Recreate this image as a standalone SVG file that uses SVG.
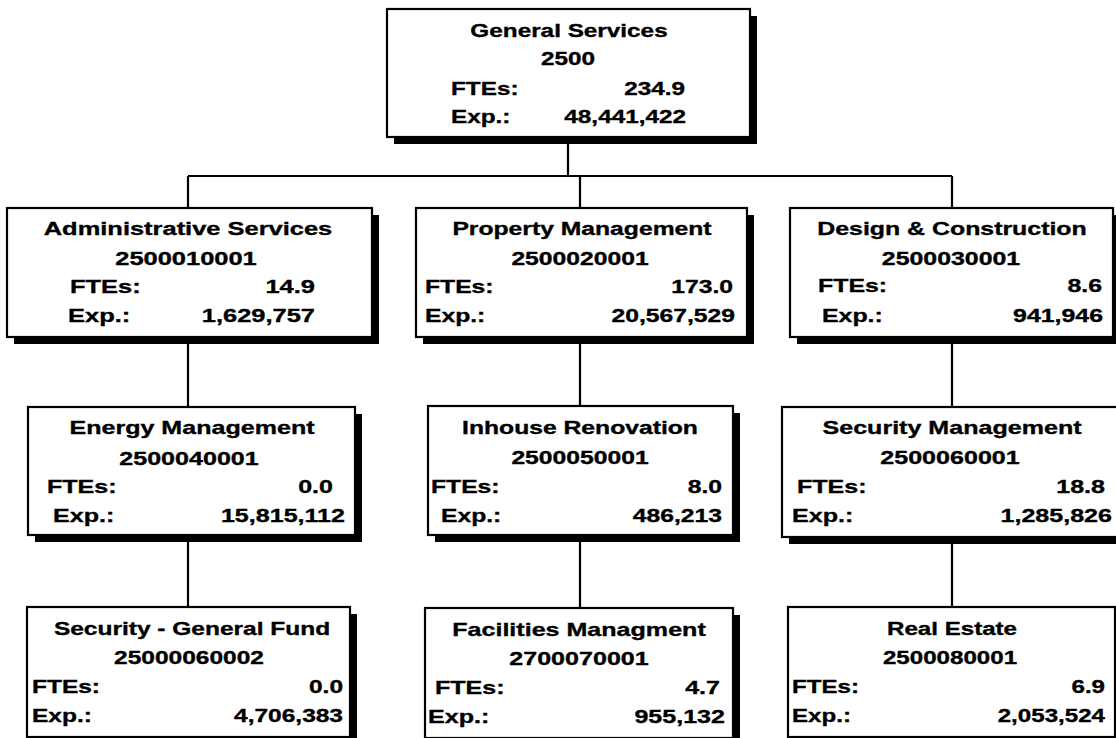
<svg xmlns="http://www.w3.org/2000/svg" width="1116" height="738" viewBox="0 0 1116 738">
<style>
.sh{fill:#000}
.bx{fill:#fff;stroke:#000;stroke-width:2.2}
.t{font-family:"Liberation Sans",Arial,sans-serif;font-weight:bold;font-size:19px;fill:#000;stroke:#000;stroke-width:0.35}
.m{text-anchor:middle}
.e{text-anchor:end}
.c{stroke:#000;stroke-width:2.2;fill:none}
</style>
<rect width="1116" height="738" fill="#fff"/>
<g id="connectors">
<path class="c" d="M568 137V176M188 176H952M188 176V208M580 176V208M952 176V208M188 337V407M580 337V406M952 337V407M188 535V607M580 535V608M952 537V607"/>
</g>
<g id="general-services">
<rect class="sh" x="394" y="16" width="363" height="128"/>
<rect class="bx" x="387" y="9" width="363" height="128"/>
<text class="t m" transform="translate(569,37) scale(1.28,1)">General Services</text>
<text class="t m" transform="translate(568,65) scale(1.28,1)">2500</text>
<text class="t" transform="translate(451,95) scale(1.28,1)">FTEs:</text>
<text class="t e" transform="translate(685,95) scale(1.28,1)">234.9</text>
<text class="t" transform="translate(451,123) scale(1.28,1)">Exp.:</text>
<text class="t e" transform="translate(686,123) scale(1.28,1)">48,441,422</text>
</g>
<g id="administrative-services">
<rect class="sh" x="14" y="215" width="365" height="129"/>
<rect class="bx" x="7" y="208" width="365" height="129"/>
<text class="t m" transform="translate(188,235) scale(1.34,1)">Administrative Services</text>
<text class="t m" transform="translate(186,265) scale(1.34,1)">2500010001</text>
<text class="t" transform="translate(70,293) scale(1.34,1)">FTEs:</text>
<text class="t e" transform="translate(315,293) scale(1.34,1)">14.9</text>
<text class="t" transform="translate(68,322) scale(1.34,1)">Exp.:</text>
<text class="t e" transform="translate(315,322) scale(1.34,1)">1,629,757</text>
</g>
<g id="property-management">
<rect class="sh" x="423" y="215" width="331" height="129"/>
<rect class="bx" x="416" y="208" width="331" height="129"/>
<text class="t m" transform="translate(582,235) scale(1.3,1)">Property Management</text>
<text class="t m" transform="translate(580,265) scale(1.3,1)">2500020001</text>
<text class="t" transform="translate(425,293) scale(1.3,1)">FTEs:</text>
<text class="t e" transform="translate(733,293) scale(1.3,1)">173.0</text>
<text class="t" transform="translate(425,322) scale(1.3,1)">Exp.:</text>
<text class="t e" transform="translate(735,322) scale(1.3,1)">20,567,529</text>
</g>
<g id="design-construction">
<rect class="sh" x="797" y="215" width="323" height="129"/>
<rect class="bx" x="790" y="208" width="323" height="129"/>
<text class="t m" transform="translate(952,235) scale(1.31,1)">Design &amp; Construction</text>
<text class="t m" transform="translate(951,265) scale(1.31,1)">2500030001</text>
<text class="t" transform="translate(818,292) scale(1.31,1)">FTEs:</text>
<text class="t e" transform="translate(1102,292) scale(1.31,1)">8.6</text>
<text class="t" transform="translate(822,322) scale(1.31,1)">Exp.:</text>
<text class="t e" transform="translate(1103,322) scale(1.31,1)">941,946</text>
</g>
<g id="energy-management">
<rect class="sh" x="35" y="414" width="327" height="128"/>
<rect class="bx" x="28" y="407" width="327" height="128"/>
<text class="t m" transform="translate(192,434) scale(1.32,1)">Energy Management</text>
<text class="t m" transform="translate(189,465) scale(1.32,1)">2500040001</text>
<text class="t" transform="translate(47,493) scale(1.32,1)">FTEs:</text>
<text class="t e" transform="translate(333,493) scale(1.32,1)">0.0</text>
<text class="t" transform="translate(53,522) scale(1.32,1)">Exp.:</text>
<text class="t e" transform="translate(345,522) scale(1.32,1)">15,815,112</text>
</g>
<g id="inhouse-renovation">
<rect class="sh" x="435" y="413" width="305" height="129"/>
<rect class="bx" x="428" y="406" width="305" height="129"/>
<text class="t m" transform="translate(580,434) scale(1.3,1)">Inhouse Renovation</text>
<text class="t m" transform="translate(580,464) scale(1.3,1)">2500050001</text>
<text class="t" transform="translate(431,493) scale(1.3,1)">FTEs:</text>
<text class="t e" transform="translate(722,493) scale(1.3,1)">8.0</text>
<text class="t" transform="translate(441,522) scale(1.3,1)">Exp.:</text>
<text class="t e" transform="translate(722,522) scale(1.3,1)">486,213</text>
</g>
<g id="security-management">
<rect class="sh" x="789" y="414" width="345" height="130"/>
<rect class="bx" x="782" y="407" width="345" height="130"/>
<text class="t m" transform="translate(952,434) scale(1.32,1)">Security Management</text>
<text class="t m" transform="translate(950,464) scale(1.32,1)">2500060001</text>
<text class="t" transform="translate(797,493) scale(1.32,1)">FTEs:</text>
<text class="t e" transform="translate(1105,493) scale(1.32,1)">18.8</text>
<text class="t" transform="translate(792,522) scale(1.32,1)">Exp.:</text>
<text class="t e" transform="translate(1112,522) scale(1.32,1)">1,285,826</text>
</g>
<g id="security-general-fund">
<rect class="sh" x="34" y="614" width="323" height="130"/>
<rect class="bx" x="27" y="607" width="323" height="130"/>
<text class="t m" transform="translate(192,635) scale(1.29,1)">Security - General Fund</text>
<text class="t m" transform="translate(189,664) scale(1.29,1)">25000060002</text>
<text class="t" transform="translate(32,693) scale(1.29,1)">FTEs:</text>
<text class="t e" transform="translate(343,693) scale(1.29,1)">0.0</text>
<text class="t" transform="translate(32,722) scale(1.29,1)">Exp.:</text>
<text class="t e" transform="translate(343,722) scale(1.29,1)">4,706,383</text>
</g>
<g id="facilities-managment">
<rect class="sh" x="432" y="615" width="308" height="130"/>
<rect class="bx" x="425" y="608" width="308" height="130"/>
<text class="t m" transform="translate(579,636) scale(1.32,1)">Facilities Managment</text>
<text class="t m" transform="translate(579,665) scale(1.32,1)">2700070001</text>
<text class="t" transform="translate(435,694) scale(1.32,1)">FTEs:</text>
<text class="t e" transform="translate(720,694) scale(1.32,1)">4.7</text>
<text class="t" transform="translate(428,723) scale(1.32,1)">Exp.:</text>
<text class="t e" transform="translate(725,723) scale(1.32,1)">955,132</text>
</g>
<g id="real-estate">
<rect class="sh" x="795" y="614" width="327" height="130"/>
<rect class="bx" x="788" y="607" width="327" height="130"/>
<text class="t m" transform="translate(952,635) scale(1.27,1)">Real Estate</text>
<text class="t m" transform="translate(950,664) scale(1.27,1)">2500080001</text>
<text class="t" transform="translate(792,693) scale(1.27,1)">FTEs:</text>
<text class="t e" transform="translate(1105,693) scale(1.27,1)">6.9</text>
<text class="t" transform="translate(792,722) scale(1.27,1)">Exp.:</text>
<text class="t e" transform="translate(1105,722) scale(1.27,1)">2,053,524</text>
</g>
</svg>
